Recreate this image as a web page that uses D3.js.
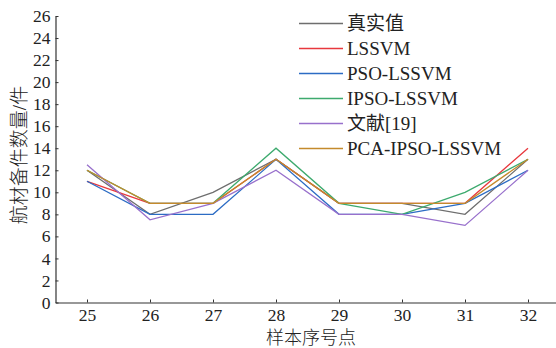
<!DOCTYPE html>
<html>
<head>
<meta charset="utf-8">
<script src="https://cdn.jsdelivr.net/npm/d3@7"></script>
<style>
  body { margin: 0; background: #fff; }
  svg text { font-family: "Liberation Serif", "Times New Roman", "Noto Sans CJK SC", serif; fill: #222; }
</style>
</head>
<body>
<svg id="mainChart" width="556" height="348"></svg>
<script>
var samples = [25, 26, 27, 28, 29, 30, 31, 32];
var yTicks = [0, 2, 4, 6, 8, 10, 12, 14, 16, 18, 20, 22, 24, 26];

var trueVals = [12, 8, 10, 13, 9, 9, 8, 13];
var lssvm = [11, 9, 9, 13, 9, 9, 9, 14];
var psoLssvm = [11, 8, 8, 13, 8, 8, 9, 12];
var ipsoLssvm = [12, 9, 9, 14, 9, 8, 10, 13];
var ref19 = [12.5, 7.5, 9, 12, 8, 8, 7, 12];
var pcaIpsoLssvm = [12, 9, 9, 13, 9, 9, 9, 13];

var seriesNames = ["真实值", "LSSVM", "PSO-LSSVM", "IPSO-LSSVM", "文献[19]", "PCA-IPSO-LSSVM"];
var seriesColors = ["#6e6e6e", "#e8383d", "#2c6cc4", "#3daa6e", "#9870cc", "#c48a2c"];

var series = [trueVals, lssvm, psoLssvm, ipsoLssvm, ref19, pcaIpsoLssvm].map(function(vals, i) {
  return { name: seriesNames[i], color: seriesColors[i], values: vals };
});

var svg = d3.select("#mainChart");

var x = d3.scaleLinear().domain([24.5, 32.5]).range([55.5, 559.5]);
var y = d3.scaleLinear().domain([0, 26]).range([302.5, 16]);

// axes, ticks pointing inward
var xAxis = svg.append("g")
  .attr("transform", "translate(0," + y(0) + ")")
  .call(d3.axisBottom(x).tickValues(samples).tickSizeInner(-3).tickSizeOuter(0).tickPadding(6));
var yAxis = svg.append("g")
  .attr("transform", "translate(" + x(24.5) + ",0)")
  .call(d3.axisLeft(y).tickValues(yTicks).tickSizeInner(-3).tickSizeOuter(0).tickPadding(5));

[xAxis, yAxis].forEach(function(ax) {
  ax.select(".domain").attr("stroke", "#333").attr("stroke-width", 1.2);
  ax.selectAll(".tick line").attr("stroke", "#333");
  ax.selectAll(".tick text")
    .attr("font-family", null)
    .style("font-size", "17.5px")
    .attr("fill", "#222");
});

var line = d3.line()
  .x(function(d, i) { return x(samples[i]); })
  .y(function(d) { return y(d); });

svg.append("g")
  .selectAll("path")
  .data(series)
  .enter()
  .append("path")
  .attr("d", function(d) { return line(d.values); })
  .attr("fill", "none")
  .attr("stroke", function(d) { return d.color; })
  .attr("stroke-width", 1.3);

// legend
var legend = svg.append("g")
  .selectAll("g")
  .data(series)
  .enter()
  .append("g")
  .attr("transform", function(d, i) { return "translate(299," + (23.5 + i * 25) + ")"; });

legend.append("line")
  .attr("x1", 0)
  .attr("x2", 44)
  .attr("stroke", function(d) { return d.color; })
  .attr("stroke-width", 1.3);

legend.append("text")
  .attr("x", 48)
  .attr("dy", "0.35em")
  .style("font-size", "19px")
  .text(function(d) { return d.name; });

// axis titles
svg.append("text")
  .attr("x", 311)
  .attr("y", 344)
  .attr("text-anchor", "middle")
  .style("font-size", "18px")
  .style("font-weight", 300)
  .text("样本序号点");

svg.append("text")
  .attr("transform", "translate(26,155) rotate(-90)")
  .attr("text-anchor", "middle")
  .style("font-size", "19px")
  .style("font-weight", 300)
  .text("航材备件数量/件");
</script>
</body>
</html>
